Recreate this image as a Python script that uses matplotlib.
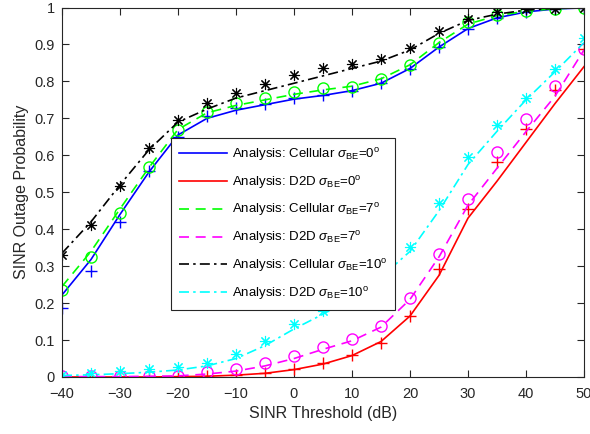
import matplotlib
matplotlib.use('Agg')
import matplotlib.pyplot as plt

plt.rcParams['font.family'] = ['Liberation Sans', 'DejaVu Sans']
plt.rcParams['mathtext.fontset'] = 'custom'
plt.rcParams['mathtext.rm'] = 'Liberation Sans'
plt.rcParams['mathtext.it'] = 'Liberation Sans:italic'

snr = [-40, -35, -30, -25, -20, -15, -10, -5, 0, 5, 10, 15, 20, 25, 30, 35, 40, 45, 50]

# analysis curves
cell0_ana = [0.222, 0.318, 0.44, 0.555, 0.655, 0.70, 0.722, 0.737, 0.752, 0.762, 0.775, 0.795, 0.835, 0.893, 0.943, 0.972, 0.988, 0.996, 0.999]
d2d0_ana = [0.0, 0.0, 0.0, 0.0, 0.001, 0.002, 0.005, 0.01, 0.02, 0.035, 0.058, 0.096, 0.165, 0.275, 0.43, 0.53, 0.635, 0.74, 0.84]
cell7_ana = [0.245, 0.34, 0.455, 0.567, 0.67, 0.715, 0.735, 0.75, 0.765, 0.777, 0.787, 0.807, 0.845, 0.905, 0.955, 0.978, 0.99, 0.997, 0.999]
d2d7_ana = [0.001, 0.001, 0.001, 0.002, 0.003, 0.008, 0.016, 0.03, 0.05, 0.075, 0.098, 0.135, 0.21, 0.325, 0.465, 0.565, 0.664, 0.76, 0.885]
cell10_ana = [0.335, 0.42, 0.52, 0.615, 0.69, 0.725, 0.755, 0.775, 0.795, 0.815, 0.835, 0.855, 0.885, 0.93, 0.965, 0.982, 0.993, 0.998, 1.0]
d2d10_ana = [0.004, 0.006, 0.009, 0.013, 0.019, 0.03, 0.05, 0.085, 0.13, 0.17, 0.215, 0.27, 0.34, 0.45, 0.575, 0.665, 0.75, 0.826, 0.905]

# simulation points
cell0_sim = [0.188, 0.287, 0.42, 0.558, 0.65, 0.706, 0.727, 0.739, 0.754, 0.764, 0.775, 0.795, 0.833, 0.894, 0.941, 0.971, 0.987, 0.995, 1.0]
d2d0_sim = [0.0, 0.0, 0.0, 0.0, 0.001, 0.002, 0.005, 0.012, 0.022, 0.037, 0.06, 0.093, 0.165, 0.291, 0.454, 0.581, 0.671, 0.777, 0.889]
cell7_sim = [0.235, 0.324, 0.443, 0.567, 0.669, 0.718, 0.741, 0.755, 0.771, 0.781, 0.784, 0.807, 0.845, 0.905, 0.962, 0.98, 0.99, 0.997, 1.0]
d2d7_sim = [0.002, 0.002, 0.002, 0.003, 0.004, 0.013, 0.022, 0.037, 0.058, 0.08, 0.102, 0.138, 0.213, 0.333, 0.483, 0.608, 0.698, 0.788, 0.887]
cell10_sim = [0.33, 0.411, 0.517, 0.62, 0.696, 0.742, 0.769, 0.793, 0.818, 0.836, 0.848, 0.861, 0.891, 0.936, 0.970, 0.988, 0.995, 0.997, 1.0]
d2d10_sim = [0.005, 0.01, 0.016, 0.021, 0.028, 0.037, 0.061, 0.097, 0.143, 0.178, 0.225, 0.28, 0.351, 0.47, 0.596, 0.682, 0.756, 0.833, 0.918]

labels = [
    r'Analysis: Cellular $\sigma_{\mathrm{BE}}$=0$^{\mathrm{o}}$',
    r'Analysis: D2D $\sigma_{\mathrm{BE}}$=0$^{\mathrm{o}}$',
    r'Analysis: Cellular $\sigma_{\mathrm{BE}}$=7$^{\mathrm{o}}$',
    r'Analysis: D2D $\sigma_{\mathrm{BE}}$=7$^{\mathrm{o}}$',
    r'Analysis: Cellular $\sigma_{\mathrm{BE}}$=10$^{\mathrm{o}}$',
    r'Analysis: D2D $\sigma_{\mathrm{BE}}$=10$^{\mathrm{o}}$',
]

star = (8, 2, 0)  # matlab-style asterisk
dashed = (0, (6, 4))
dashdot = (0, (6, 2.5, 1.5, 2.5))
series = [
    (cell0_ana, cell0_sim, '#0000ff', '-', '+'),
    (d2d0_ana, d2d0_sim, '#ff0000', '-', '+'),
    (cell7_ana, cell7_sim, '#00ff00', dashed, 'o'),
    (d2d7_ana, d2d7_sim, '#ff00ff', dashed, 'o'),
    (cell10_ana, cell10_sim, '#000000', dashdot, star),
    (d2d10_ana, d2d10_sim, '#00ffff', dashdot, star),
]

axcol = '#262626'

fig = plt.figure(figsize=(5.9, 4.34), dpi=100)
ax = fig.add_axes([62 / 590, 1 - 377 / 434, 522 / 590, 369.5 / 434])

handles = []
for (ana, sim, c, ls, mk), lab in zip(series, labels):
    h, = ax.plot(snr, ana, color=c, linestyle=ls, linewidth=1.2, label=lab)
    handles.append(h)
    mew = 0.8 if mk == star else 1.0
    ax.plot(snr, sim, linestyle='none', marker=mk, color=c, markersize=8,
            markerfacecolor='none', markeredgewidth=mew)

ax.set_xlim(-40, 50)
ax.set_ylim(0, 1)
ax.set_xticks(range(-40, 51, 10))
yt = [i / 10 for i in range(11)]
ax.set_yticks(yt)
ax.set_yticklabels(['0'] + ['%.1f' % v for v in yt[1:-1]] + ['1'])
ax.tick_params(direction='in', top=True, right=True, labelsize=10.5, length=5,
               color=axcol, labelcolor=axcol)
ax.tick_params(axis='x', pad=7)
ax.tick_params(axis='y', pad=5)
for sp in ax.spines.values():
    sp.set_color(axcol)
ax.set_xlabel('SINR Threshold (dB)', fontsize=11.5, color=axcol)
ax.set_ylabel('SINR Outage Probability', fontsize=11.5, color=axcol)

leg = ax.legend(handles=handles, loc='upper left', bbox_to_anchor=(0.209, 0.647),
                fontsize=9.5, fancybox=False, edgecolor=axcol, framealpha=1,
                handlelength=3.6, handletextpad=0.4, labelspacing=0.82,
                borderpad=0.6, borderaxespad=0)
leg.get_frame().set_linewidth(0.8)
leg.set_zorder(5)

fig.savefig('out.png', dpi=100)
